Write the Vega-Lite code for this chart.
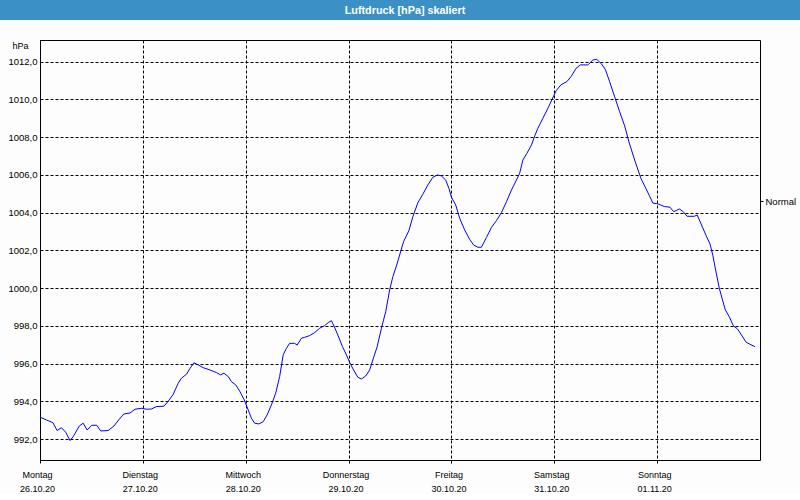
{
  "$schema": "https://vega.github.io/schema/vega-lite/v6.json",
  "background": "#fcfdfc",
  "padding": 0,
  "spacing": 20,
  "bounds": "flush",
  "center": true,
  "config": {
    "font": "Liberation Sans",
    "view": {"stroke": "black", "strokeWidth": 1},
    "axis": {"labelColor": "black", "tickColor": "black", "domainColor": "black", "titleColor": "black"}
  },
  "vconcat": [
    {
      "width": 800,
      "height": 20,
      "view": {"fill": "#3c91c4", "stroke": null},
      "data": {"values": [{"titel": "Luftdruck [hPa] skaliert"}]},
      "mark": {"type": "text", "font": "Liberation Sans", "fontWeight": "bold", "fontSize": 10.8, "color": "white", "align": "center", "baseline": "middle", "dx": 5, "dy": 1},
      "encoding": {"text": {"field": "titel", "type": "nominal"}}
    },
    {
      "width": 720,
      "height": 420,
      "view": {"stroke": "black", "strokeWidth": 1, "fill": "#fcfdfc"},
      "resolve": {"axis": {"y": "independent"}},
      "layer": [
        {
          "data": {"values": [
            {"zeit": "2020-10-26T00:00", "hPa": 993.17},
            {"zeit": "2020-10-26T01:30", "hPa": 993.02},
            {"zeit": "2020-10-26T03:00", "hPa": 992.88},
            {"zeit": "2020-10-26T04:00", "hPa": 992.46},
            {"zeit": "2020-10-26T05:00", "hPa": 992.61},
            {"zeit": "2020-10-26T06:00", "hPa": 992.37},
            {"zeit": "2020-10-26T07:00", "hPa": 991.93},
            {"zeit": "2020-10-26T07:45", "hPa": 992.14},
            {"zeit": "2020-10-26T09:10", "hPa": 992.70},
            {"zeit": "2020-10-26T10:05", "hPa": 992.85},
            {"zeit": "2020-10-26T11:00", "hPa": 992.49},
            {"zeit": "2020-10-26T12:05", "hPa": 992.74},
            {"zeit": "2020-10-26T13:15", "hPa": 992.74},
            {"zeit": "2020-10-26T14:10", "hPa": 992.44},
            {"zeit": "2020-10-26T15:55", "hPa": 992.46},
            {"zeit": "2020-10-26T17:15", "hPa": 992.70},
            {"zeit": "2020-10-26T18:30", "hPa": 993.06},
            {"zeit": "2020-10-26T19:35", "hPa": 993.34},
            {"zeit": "2020-10-26T21:00", "hPa": 993.39},
            {"zeit": "2020-10-26T22:10", "hPa": 993.59},
            {"zeit": "2020-10-26T23:45", "hPa": 993.64},
            {"zeit": "2020-10-27T00:50", "hPa": 993.59},
            {"zeit": "2020-10-27T02:00", "hPa": 993.60},
            {"zeit": "2020-10-27T03:10", "hPa": 993.73},
            {"zeit": "2020-10-27T04:55", "hPa": 993.75},
            {"zeit": "2020-10-27T05:55", "hPa": 994.01},
            {"zeit": "2020-10-27T07:05", "hPa": 994.38},
            {"zeit": "2020-10-27T08:15", "hPa": 994.97},
            {"zeit": "2020-10-27T09:00", "hPa": 995.23},
            {"zeit": "2020-10-27T10:10", "hPa": 995.44},
            {"zeit": "2020-10-27T11:00", "hPa": 995.75},
            {"zeit": "2020-10-27T11:55", "hPa": 996.05},
            {"zeit": "2020-10-27T12:55", "hPa": 995.94},
            {"zeit": "2020-10-27T14:05", "hPa": 995.79},
            {"zeit": "2020-10-27T15:40", "hPa": 995.67},
            {"zeit": "2020-10-27T17:10", "hPa": 995.53},
            {"zeit": "2020-10-27T18:10", "hPa": 995.41},
            {"zeit": "2020-10-27T18:55", "hPa": 995.50},
            {"zeit": "2020-10-27T19:55", "hPa": 995.32},
            {"zeit": "2020-10-27T20:40", "hPa": 995.05},
            {"zeit": "2020-10-27T21:40", "hPa": 994.88},
            {"zeit": "2020-10-27T22:40", "hPa": 994.52},
            {"zeit": "2020-10-27T23:40", "hPa": 994.08},
            {"zeit": "2020-10-28T00:35", "hPa": 993.55},
            {"zeit": "2020-10-28T01:20", "hPa": 993.11},
            {"zeit": "2020-10-28T02:05", "hPa": 992.85},
            {"zeit": "2020-10-28T03:05", "hPa": 992.81},
            {"zeit": "2020-10-28T04:05", "hPa": 992.93},
            {"zeit": "2020-10-28T05:00", "hPa": 993.29},
            {"zeit": "2020-10-28T06:00", "hPa": 993.82},
            {"zeit": "2020-10-28T07:00", "hPa": 994.44},
            {"zeit": "2020-10-28T07:55", "hPa": 995.32},
            {"zeit": "2020-10-28T08:45", "hPa": 996.47},
            {"zeit": "2020-10-28T09:30", "hPa": 996.82},
            {"zeit": "2020-10-28T10:15", "hPa": 997.08},
            {"zeit": "2020-10-28T11:25", "hPa": 997.08},
            {"zeit": "2020-10-28T12:00", "hPa": 996.99},
            {"zeit": "2020-10-28T13:00", "hPa": 997.35},
            {"zeit": "2020-10-28T13:45", "hPa": 997.40},
            {"zeit": "2020-10-28T14:55", "hPa": 997.49},
            {"zeit": "2020-10-28T16:05", "hPa": 997.65},
            {"zeit": "2020-10-28T17:15", "hPa": 997.88},
            {"zeit": "2020-10-28T18:25", "hPa": 998.02},
            {"zeit": "2020-10-28T19:15", "hPa": 998.18},
            {"zeit": "2020-10-28T20:00", "hPa": 998.28},
            {"zeit": "2020-10-28T20:30", "hPa": 998.05},
            {"zeit": "2020-10-28T21:30", "hPa": 997.52},
            {"zeit": "2020-10-28T22:35", "hPa": 996.90},
            {"zeit": "2020-10-28T23:30", "hPa": 996.47},
            {"zeit": "2020-10-29T00:15", "hPa": 996.07},
            {"zeit": "2020-10-29T01:10", "hPa": 995.67},
            {"zeit": "2020-10-29T02:10", "hPa": 995.28},
            {"zeit": "2020-10-29T03:00", "hPa": 995.19},
            {"zeit": "2020-10-29T04:00", "hPa": 995.35},
            {"zeit": "2020-10-29T04:55", "hPa": 995.67},
            {"zeit": "2020-10-29T05:40", "hPa": 996.20},
            {"zeit": "2020-10-29T06:40", "hPa": 996.90},
            {"zeit": "2020-10-29T07:40", "hPa": 997.88},
            {"zeit": "2020-10-29T08:40", "hPa": 998.76},
            {"zeit": "2020-10-29T09:35", "hPa": 999.91},
            {"zeit": "2020-10-29T10:20", "hPa": 1000.61},
            {"zeit": "2020-10-29T11:10", "hPa": 1001.18},
            {"zeit": "2020-10-29T11:55", "hPa": 1001.76},
            {"zeit": "2020-10-29T12:50", "hPa": 1002.47},
            {"zeit": "2020-10-29T14:05", "hPa": 1003.05},
            {"zeit": "2020-10-29T15:00", "hPa": 1003.79},
            {"zeit": "2020-10-29T16:10", "hPa": 1004.53},
            {"zeit": "2020-10-29T17:20", "hPa": 1004.98},
            {"zeit": "2020-10-29T18:30", "hPa": 1005.47},
            {"zeit": "2020-10-29T19:40", "hPa": 1005.88},
            {"zeit": "2020-10-29T20:45", "hPa": 1006.00},
            {"zeit": "2020-10-29T21:40", "hPa": 1005.95},
            {"zeit": "2020-10-29T22:40", "hPa": 1005.73},
            {"zeit": "2020-10-29T23:25", "hPa": 1005.29},
            {"zeit": "2020-10-30T00:00", "hPa": 1004.82},
            {"zeit": "2020-10-30T01:00", "hPa": 1004.41},
            {"zeit": "2020-10-30T01:55", "hPa": 1003.71},
            {"zeit": "2020-10-30T03:05", "hPa": 1003.09},
            {"zeit": "2020-10-30T04:15", "hPa": 1002.59},
            {"zeit": "2020-10-30T05:10", "hPa": 1002.29},
            {"zeit": "2020-10-30T06:10", "hPa": 1002.17},
            {"zeit": "2020-10-30T07:00", "hPa": 1002.17},
            {"zeit": "2020-10-30T08:10", "hPa": 1002.69},
            {"zeit": "2020-10-30T09:20", "hPa": 1003.22},
            {"zeit": "2020-10-30T10:30", "hPa": 1003.58},
            {"zeit": "2020-10-30T11:40", "hPa": 1004.00},
            {"zeit": "2020-10-30T12:50", "hPa": 1004.58},
            {"zeit": "2020-10-30T14:00", "hPa": 1005.20},
            {"zeit": "2020-10-30T15:10", "hPa": 1005.73},
            {"zeit": "2020-10-30T15:55", "hPa": 1006.09},
            {"zeit": "2020-10-30T16:40", "hPa": 1006.79},
            {"zeit": "2020-10-30T17:35", "hPa": 1007.14},
            {"zeit": "2020-10-30T18:40", "hPa": 1007.58},
            {"zeit": "2020-10-30T19:25", "hPa": 1008.06},
            {"zeit": "2020-10-30T20:10", "hPa": 1008.47},
            {"zeit": "2020-10-30T21:20", "hPa": 1009.00},
            {"zeit": "2020-10-30T22:30", "hPa": 1009.53},
            {"zeit": "2020-10-30T23:30", "hPa": 1010.01},
            {"zeit": "2020-10-31T00:25", "hPa": 1010.46},
            {"zeit": "2020-10-31T01:35", "hPa": 1010.78},
            {"zeit": "2020-10-31T02:55", "hPa": 1010.94},
            {"zeit": "2020-10-31T03:55", "hPa": 1011.21},
            {"zeit": "2020-10-31T05:05", "hPa": 1011.65},
            {"zeit": "2020-10-31T06:05", "hPa": 1011.83},
            {"zeit": "2020-10-31T07:50", "hPa": 1011.83},
            {"zeit": "2020-10-31T09:00", "hPa": 1012.09},
            {"zeit": "2020-10-31T09:55", "hPa": 1012.12},
            {"zeit": "2020-10-31T10:55", "hPa": 1011.91},
            {"zeit": "2020-10-31T11:55", "hPa": 1011.59},
            {"zeit": "2020-10-31T12:55", "hPa": 1010.94},
            {"zeit": "2020-10-31T14:05", "hPa": 1010.14},
            {"zeit": "2020-10-31T15:15", "hPa": 1009.35},
            {"zeit": "2020-10-31T16:25", "hPa": 1008.60},
            {"zeit": "2020-10-31T17:30", "hPa": 1007.69},
            {"zeit": "2020-10-31T18:55", "hPa": 1006.68},
            {"zeit": "2020-10-31T20:15", "hPa": 1005.80},
            {"zeit": "2020-10-31T21:25", "hPa": 1005.27},
            {"zeit": "2020-10-31T22:10", "hPa": 1004.91},
            {"zeit": "2020-10-31T23:00", "hPa": 1004.51},
            {"zeit": "2020-11-01T00:10", "hPa": 1004.47},
            {"zeit": "2020-11-01T01:40", "hPa": 1004.33},
            {"zeit": "2020-11-01T03:00", "hPa": 1004.29},
            {"zeit": "2020-11-01T03:50", "hPa": 1004.06},
            {"zeit": "2020-11-01T04:25", "hPa": 1004.11},
            {"zeit": "2020-11-01T05:10", "hPa": 1004.20},
            {"zeit": "2020-11-01T06:00", "hPa": 1004.07},
            {"zeit": "2020-11-01T07:00", "hPa": 1003.81},
            {"zeit": "2020-11-01T08:40", "hPa": 1003.81},
            {"zeit": "2020-11-01T09:20", "hPa": 1003.88},
            {"zeit": "2020-11-01T10:15", "hPa": 1003.41},
            {"zeit": "2020-11-01T11:25", "hPa": 1002.79},
            {"zeit": "2020-11-01T12:20", "hPa": 1002.35},
            {"zeit": "2020-11-01T13:00", "hPa": 1001.73},
            {"zeit": "2020-11-01T13:45", "hPa": 1000.85},
            {"zeit": "2020-11-01T14:30", "hPa": 1000.00},
            {"zeit": "2020-11-01T15:15", "hPa": 999.38},
            {"zeit": "2020-11-01T15:55", "hPa": 998.85},
            {"zeit": "2020-11-01T16:50", "hPa": 998.49},
            {"zeit": "2020-11-01T17:45", "hPa": 998.02},
            {"zeit": "2020-11-01T18:45", "hPa": 997.84},
            {"zeit": "2020-11-01T19:50", "hPa": 997.47},
            {"zeit": "2020-11-01T20:45", "hPa": 997.14},
            {"zeit": "2020-11-01T21:55", "hPa": 997.00},
            {"zeit": "2020-11-01T22:50", "hPa": 996.90}
          ]},
          "mark": {"type": "line", "color": "#0000ff", "strokeWidth": 1},
          "encoding": {
            "x": {
              "field": "zeit",
              "type": "temporal",
              "scale": {"domain": [{"year": 2020, "month": 10, "date": 26}, {"year": 2020, "month": 11, "date": 2}], "nice": false},
              "axis": {
                "title": null,
                "values": [
                  {"year": 2020, "month": 10, "date": 26},
                  {"year": 2020, "month": 10, "date": 27},
                  {"year": 2020, "month": 10, "date": 28},
                  {"year": 2020, "month": 10, "date": 29},
                  {"year": 2020, "month": 10, "date": 30},
                  {"year": 2020, "month": 10, "date": 31},
                  {"year": 2020, "month": 11, "date": 1}
                ],
                "labelExpr": "[['Sonntag','Montag','Dienstag','Mittwoch','Donnerstag','Freitag','Samstag'][day(datum.value)], timeFormat(datum.value, '%d.%m.%y')]",
                "grid": true,
                "gridColor": "black",
                "gridOpacity": 1,
                "gridDash": [3, 2],
                "gridWidth": 1,
                "domain": false,
                "ticks": true,
                "tickSize": 3,
                "labelFlush": false,
                "labelOverlap": false,
                "labelPadding": 7,
                "labelLineHeight": 14,
                "labelOffset": -3,
                "labelFontSize": 9,
                "labelFont": "Liberation Sans"
              }
            },
            "y": {
              "field": "hPa",
              "type": "quantitative",
              "scale": {"domain": [990.9, 1013.15], "nice": false, "zero": false},
              "axis": {
                "orient": "left",
                "title": "hPa",
                "titleAngle": 0,
                "titleAlign": "right",
                "titleBaseline": "middle",
                "titleX": -12,
                "titleY": 5,
                "titleFontWeight": "normal",
                "titleFontSize": 9,
                "titleFont": "Liberation Sans",
                "values": [992, 994, 996, 998, 1000, 1002, 1004, 1006, 1008, 1010, 1012],
                "labelExpr": "replace(format(datum.value, '.1f'), '.', ',')",
                "grid": true,
                "gridColor": "black",
                "gridOpacity": 1,
                "gridDash": [3, 2],
                "gridWidth": 1,
                "domain": false,
                "ticks": false,
                "labelPadding": 3,
                "labelFontSize": 9.5,
                "labelFont": "Liberation Sans"
              }
            }
          }
        },
        {
          "data": {"values": [{"bezeichnung": "Normal", "hPa": 1004.6}]},
          "mark": {"type": "rule", "opacity": 0},
          "encoding": {
            "y": {
              "field": "hPa",
              "type": "quantitative",
              "scale": {"domain": [990.9, 1013.15], "nice": false, "zero": false},
              "axis": {
                "orient": "right",
                "title": null,
                "values": [1004.6],
                "labelExpr": "'Normal'",
                "grid": false,
                "domain": false,
                "ticks": true,
                "tickSize": 3,
                "labelPadding": 2,
                "labelFontSize": 9.5,
                "labelFont": "Liberation Sans"
              }
            }
          }
        }
      ]
    }
  ]
}
